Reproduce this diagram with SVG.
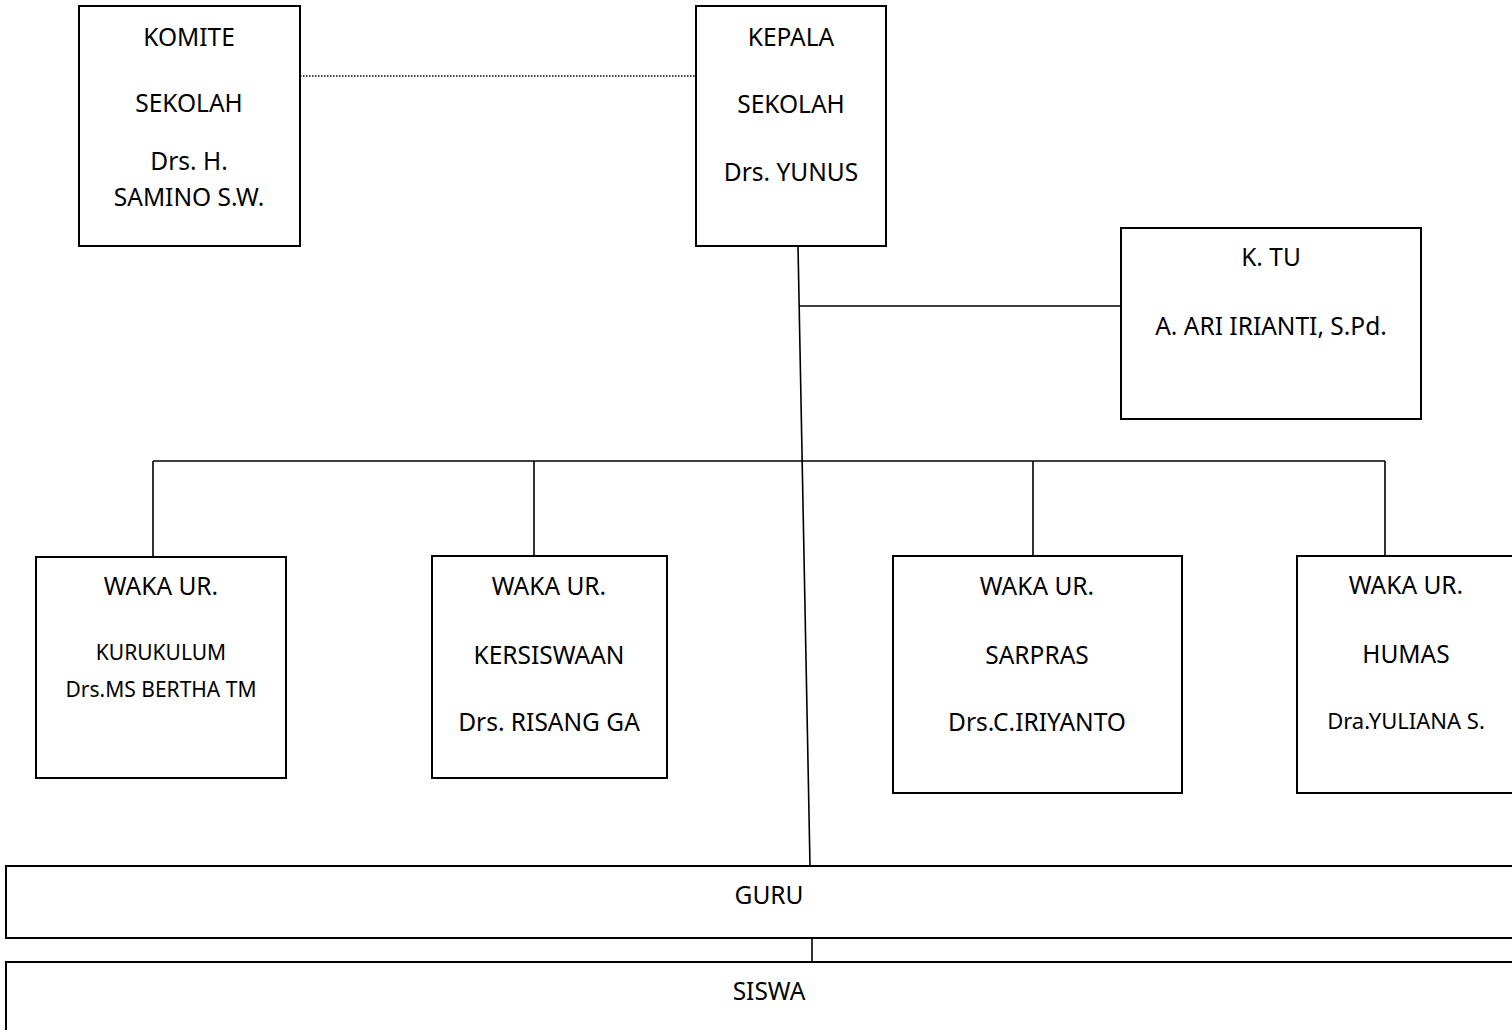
<svg xmlns="http://www.w3.org/2000/svg" width="1512" height="1030" viewBox="0 0 1512 1030">
<style>
.box{fill:#fff;stroke:#000;stroke-width:2}
.ln{stroke:#000;stroke-width:1.6;fill:none}
.dot{stroke:#000;stroke-width:1.6;stroke-dasharray:1.5 1.5;fill:none}
text{font-family:"Noto Sans","Open Sans","Liberation Sans",sans-serif;font-size:24.5px;text-anchor:middle;fill:#000}
.sm{font-size:21px}
.sm2{font-size:22px}
</style>
<rect width="1512" height="1030" fill="#fff"/>
<g id="connectors">
<line class="dot" x1="300" y1="76" x2="696" y2="76"/>
<line class="ln" x1="798" y1="246" x2="810" y2="866"/>
<line class="ln" x1="799" y1="306" x2="1121" y2="306"/>
<line class="ln" x1="153" y1="461" x2="1385" y2="461"/>
<line class="ln" x1="153" y1="461" x2="153" y2="557"/>
<line class="ln" x1="534" y1="461" x2="534" y2="556"/>
<line class="ln" x1="1033" y1="461" x2="1033" y2="556"/>
<line class="ln" x1="1385" y1="461" x2="1385" y2="556"/>
<line class="ln" x1="812" y1="938" x2="812" y2="962"/>
</g>
<g id="komite">
<rect class="box" x="79" y="6" width="221" height="240"/>
<text x="189" y="46">KOMITE</text>
<text x="189" y="112">SEKOLAH</text>
<text x="189" y="170">Drs. H.</text>
<text x="189" y="206">SAMINO S.W.</text>
</g>
<g id="kepala">
<rect class="box" x="696" y="6" width="190" height="240"/>
<text x="791" y="46">KEPALA</text>
<text x="791" y="113">SEKOLAH</text>
<text x="791" y="181">Drs. YUNUS</text>
</g>
<g id="ktu">
<rect class="box" x="1121" y="228" width="300" height="191"/>
<text x="1271" y="266">K. TU</text>
<text x="1271" y="335">A. ARI IRIANTI, S.Pd.</text>
</g>
<g id="waka-kurikulum">
<rect class="box" x="36" y="557" width="250" height="221"/>
<text x="161" y="595">WAKA UR.</text>
<text class="sm" x="161" y="660">KURUKULUM</text>
<text class="sm" x="161" y="697">Drs.MS BERTHA TM</text>
</g>
<g id="waka-kesiswaan">
<rect class="box" x="432" y="556" width="235" height="222"/>
<text x="549" y="595">WAKA UR.</text>
<text x="549" y="664">KERSISWAAN</text>
<text x="549" y="731">Drs. RISANG GA</text>
</g>
<g id="waka-sarpras">
<rect class="box" x="893" y="556" width="289" height="237"/>
<text x="1037" y="595">WAKA UR.</text>
<text x="1037" y="664">SARPRAS</text>
<text x="1037" y="731">Drs.C.IRIYANTO</text>
</g>
<g id="waka-humas">
<rect class="box" x="1297" y="556" width="220" height="237"/>
<text x="1406" y="594">WAKA UR.</text>
<text x="1406" y="663">HUMAS</text>
<text class="sm2" x="1406" y="729">Dra.YULIANA S.</text>
</g>
<g id="guru">
<rect class="box" x="6" y="866" width="1511" height="72"/>
<text x="769" y="904">GURU</text>
</g>
<g id="siswa">
<rect class="box" x="6" y="962" width="1511" height="80"/>
<text x="769" y="1000">SISWA</text>
</g>
</svg>
